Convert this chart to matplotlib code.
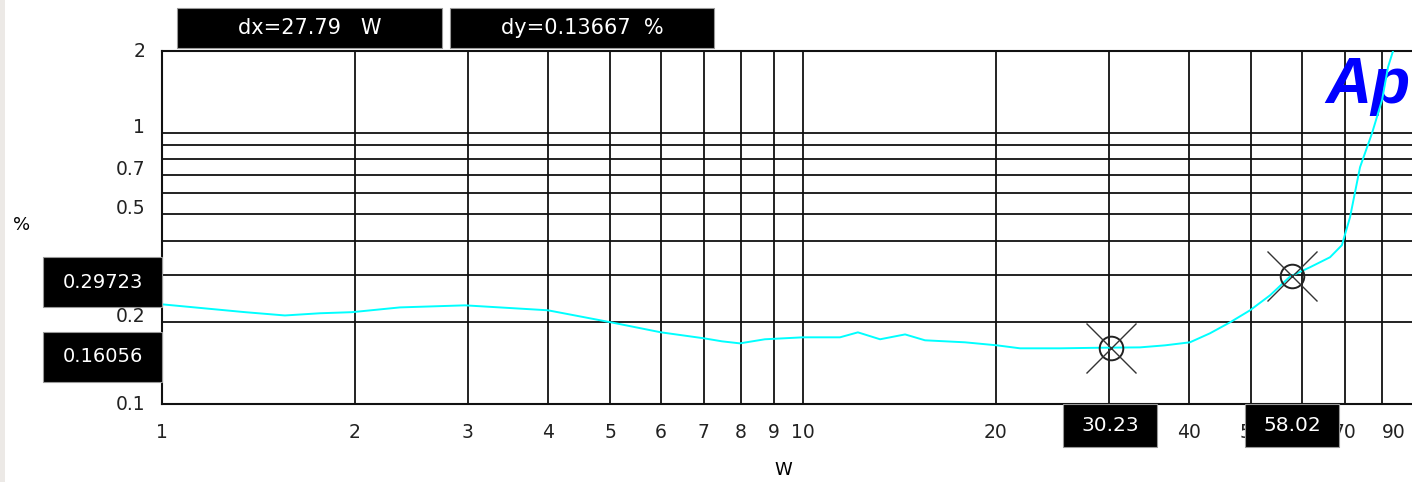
import matplotlib
matplotlib.use("Agg")
import matplotlib.pyplot as plt
from matplotlib.patches import Rectangle
from matplotlib.ticker import FixedLocator, NullFormatter

# THD+N vs output power
power_w = [1.0, 1.348, 1.555, 1.764, 1.979, 2.351, 2.97, 4.0, 5.017, 6.005,
           7.01, 7.475, 7.97, 8.72, 10.0, 11.42, 12.18, 13.19, 14.43, 15.5,
           17.89, 20.08, 21.81, 25.17, 29.06, 33.55, 36.7, 40.15, 43.14, 46.37,
           49.82, 53.54, 57.52, 61.8, 66.41, 69.3, 71.35, 73.96, 77.22, 80.05,
           81.79, 83.27]
thd_pct = [0.233, 0.218, 0.212, 0.216, 0.218, 0.227, 0.231, 0.2215, 0.2, 0.1837,
           0.1746, 0.1702, 0.1673, 0.1732, 0.1761, 0.1761, 0.1837, 0.1732, 0.1805, 0.1717,
           0.1688, 0.1645, 0.1604, 0.1604, 0.1612, 0.1617, 0.1645, 0.1688, 0.1822, 0.2,
           0.2215, 0.2516, 0.295, 0.3192, 0.3475, 0.385, 0.488, 0.746, 0.996, 1.319,
           1.746, 2.0]

# cursors
cursor_x = [30.23, 58.02]
cursor_y = [0.16056, 0.29723]

x_labels = [1, 2, 3, 4, 5, 6, 7, 8, 9, 10, 20, 40, 50, 70]
x_grid = [1, 2, 3, 4, 5, 6, 7, 8, 9, 10, 20, 30, 40, 50, 60, 70, 80, 90]
y_labels = [0.1, 0.2, 0.5, 0.7, 1, 2]
y_grid = [0.2, 0.3, 0.4, 0.5, 0.6, 0.7, 0.8, 0.9, 1.0]

W, H = 1412, 482
fig = plt.figure(figsize=(W / 100, H / 100), dpi=100)
plt.rcParams['font.family'] = ['DejaVu Sans']

ax = fig.add_axes([162 / W, (H - 404) / H, 1250 / W, 353 / H])
ax.set_xscale('log')
ax.set_yscale('log')
ax.set_xlim(1, 89.14)
ax.set_ylim(0.1, 2)

ax.xaxis.set_major_locator(FixedLocator(x_labels))
ax.xaxis.set_major_formatter(plt.FuncFormatter(lambda v, p: f"{v:g}"))
ax.xaxis.set_minor_locator(FixedLocator(x_grid))
ax.xaxis.set_minor_formatter(NullFormatter())
ax.yaxis.set_major_locator(FixedLocator(y_labels))
ax.yaxis.set_major_formatter(plt.FuncFormatter(lambda v, p: f"{v:g}"))
ax.yaxis.set_minor_locator(FixedLocator(y_grid))
ax.yaxis.set_minor_formatter(NullFormatter())
ax.xaxis.remove_overlapping_locs = False
ax.yaxis.remove_overlapping_locs = False

ax.grid(which='minor', color='#111111', linewidth=1.3)
ax.tick_params(which='both', length=0, labelsize=13.5, colors='#222222')
ax.tick_params(axis='x', pad=14)
ax.tick_params(axis='y', pad=12)
for v, lab in zip(y_labels, ax.get_yticklabels()):
    lab.set_verticalalignment('center' if v in (0.1, 2) else 'baseline')
for name, sp in ax.spines.items():
    sp.set_color('#111111')
    sp.set_linewidth(1.5)
ax.spines['right'].set_visible(False)

ax.plot(power_w, thd_pct, color='#00FFFF', linewidth=1.4, zorder=3)
ax.plot(cursor_x, cursor_y, linestyle='none', marker='o', markersize=17,
        markerfacecolor='none', markeredgecolor='#222222', markeredgewidth=1.4, zorder=4)
ax.plot(cursor_x, cursor_y, linestyle='none', marker='x', markersize=36,
        markeredgecolor='#333333', markeredgewidth=1.0, zorder=4)

# "90" label sits inside the cropped right edge
ax.text(83.5, -0.055, "90", transform=ax.get_xaxis_transform(), ha='center', va='top',
        fontsize=13.5, color='#222222')

ax.text(0.9985, 0.985, "Ap", transform=ax.transAxes, ha='right', va='top',
        fontsize=46, fontweight='bold', fontstyle='italic', color='#0000FF',
        family='Liberation Sans', zorder=2)


def box(x0, y0, x1, y1, text, size):
    fig.add_artist(Rectangle((x0 / W, 1 - y1 / H), (x1 - x0) / W, (y1 - y0) / H,
                             transform=fig.transFigure, facecolor='black',
                             edgecolor='#999999', linewidth=0.8, zorder=10))
    fig.text((x0 + x1) / 2 / W, 1 - (y0 + y1) / 2 / H, text, ha='center', va='center',
             color='white', fontsize=size, zorder=11)


box(177, 8, 442, 48, "dx=27.79   W", 15)
box(450, 8, 714, 48, "dy=0.13667  %", 15)
box(43, 257, 162, 307, "0.29723", 14)
box(43, 332, 162, 382, "0.16056", 14)
box(1063, 404, 1157, 447, "30.23", 14.5)
box(1245, 404, 1339, 447, "58.02", 14.5)

fig.text(22 / W, 1 - 225 / H, "%", ha='center', va='center', fontsize=13)
fig.text(783 / W, 1 - 470 / H, "W", ha='center', va='center', fontsize=13)

fig.add_artist(Rectangle((0, 0), 5 / W, 1, transform=fig.transFigure,
                         facecolor='#ECE9E6', edgecolor='none'))

fig.savefig("out.png", dpi=100)
